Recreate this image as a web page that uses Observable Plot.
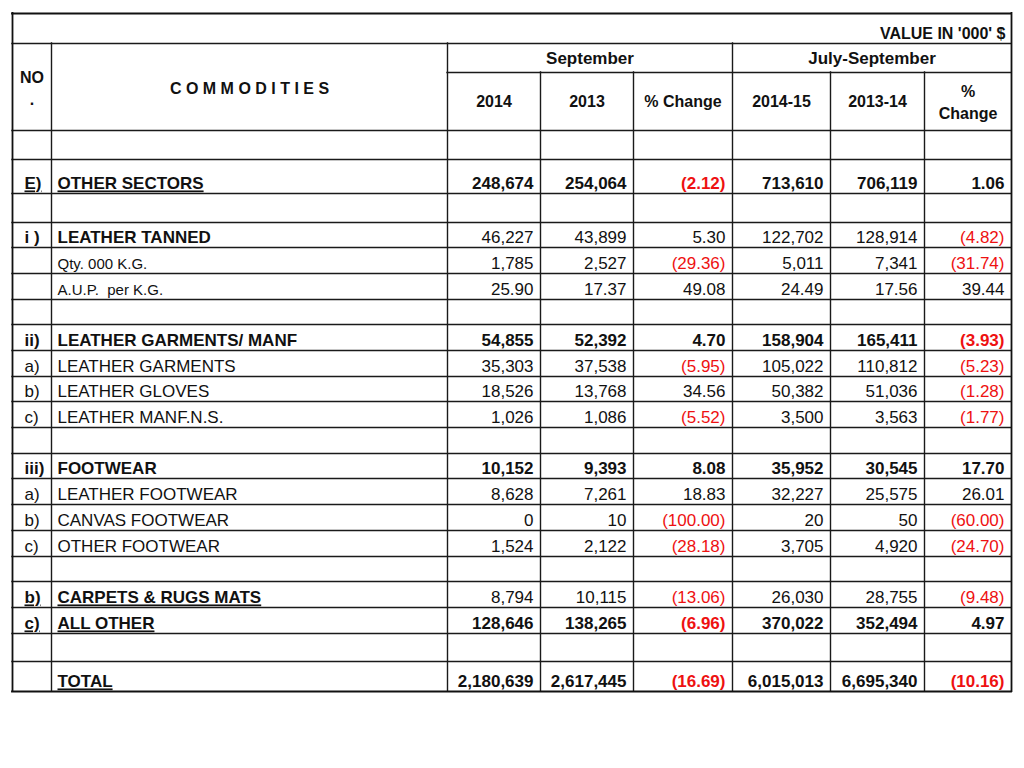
<!DOCTYPE html>
<html>
<head>
<meta charset="utf-8">
<script src="https://cdn.jsdelivr.net/npm/d3@7"></script>
<script src="https://cdn.jsdelivr.net/npm/@observablehq/plot@0.6"></script>
<style>
  html, body { margin: 0; padding: 0; background: #fff; overflow: hidden; }
  #chart svg { display: block; }
</style>
</head>
<body>
<div id="chart"></div>
<script>
// ---------------- DATA ----------------
const unitNote = "VALUE IN '000' $";
const noHeader = "NO\n.";
const commoditiesHeader = "C O M M O D I T I E S";
const groupHeaders = ["September", "July-September"];
const columnHeaders = ["2014", "2013", "% Change", "2014-15", "2013-14", "%\nChange"];

const rowNo = ["", "E)", "", "i )", "", "", "", "ii)", "a)", "b)", "c)", "", "iii)", "a)", "b)", "c)", "", "b)", "c)", "", ""];
const commodities = ["", "OTHER SECTORS", "", "LEATHER TANNED", "Qty. 000 K.G.", "A.U.P.  per K.G.", "",
  "LEATHER GARMENTS/ MANF", "LEATHER GARMENTS", "LEATHER GLOVES", "LEATHER MANF.N.S.", "",
  "FOOTWEAR", "LEATHER FOOTWEAR", "CANVAS FOOTWEAR", "OTHER FOOTWEAR", "",
  "CARPETS & RUGS MATS", "ALL OTHER", "", "TOTAL"];

const sep2014   = [null, 248674, null, 46227, 1785, 25.90, null, 54855, 35303, 18526, 1026, null, 10152, 8628, 0, 1524, null, 8794, 128646, null, 2180639];
const sep2013   = [null, 254064, null, 43899, 2527, 17.37, null, 52392, 37538, 13768, 1086, null, 9393, 7261, 10, 2122, null, 10115, 138265, null, 2617445];
const sepChange = [null, -2.12, null, 5.30, -29.36, 49.08, null, 4.70, -5.95, 34.56, -5.52, null, 8.08, 18.83, -100.00, -28.18, null, -13.06, -6.96, null, -16.69];
const jul1415   = [null, 713610, null, 122702, 5011, 24.49, null, 158904, 105022, 50382, 3500, null, 35952, 32227, 20, 3705, null, 26030, 370022, null, 6015013];
const jul1314   = [null, 706119, null, 128914, 7341, 17.56, null, 165411, 110812, 51036, 3563, null, 30545, 25575, 50, 4920, null, 28755, 352494, null, 6695340];
const julChange = [null, 1.06, null, -4.82, -31.74, 39.44, null, -3.93, -5.23, -1.28, -1.77, null, 17.70, 26.01, -60.00, -24.70, null, -9.48, 4.97, null, -10.16];

// ---------------- LAYOUT / STYLE ----------------
const W = 1024, H = 740;
const colEdges = [12, 51, 447, 540, 633, 732, 830, 924, 1011];
const headTop = 13, headMid = 43, headSub = 72;
const rowEdges = [130, 159, 193, 222, 247, 273, 299, 324, 350, 376, 401, 427, 453, 478, 504, 530, 556, 581, 607, 633, 661, 691];
const boldLabelRows = new Set([1, 3, 7, 12, 17, 18, 20]);
const underlineRows = new Set([1, 17, 18, 20]);
const boldValueRows = new Set([1, 7, 12, 18, 20]);
const smallLabelRows = new Set([4, 5]);
const RED = "#ee1111", INK = "#111";
const FONT = "'Liberation Sans', Arial, sans-serif";

const fmtValue = v => Number.isInteger(v) ? d3.format(",")(v) : d3.format(".2f")(v);
const fmtChange = v => v < 0 ? `(${d3.format(".2f")(-v)})` : d3.format(".2f")(v);

const series = [sep2014, sep2013, sepChange, jul1415, jul1314, julChange];
const isChange = [false, false, true, false, false, true];

// ---------------- CELLS ----------------
const cells = [];
const rowCenter = i => rowEdges[i + 1] - 9.5;
const cell = (o) => cells.push({ul: false, color: INK, lh: 1, ...o});
rowNo.forEach((no, i) => {
  const y = rowCenter(i);
  const ul = underlineRows.has(i);
  if (no) cell({x: 24, y, text: no, anchor: "start", weight: boldLabelRows.has(i) ? "bold" : "normal", size: 17, ul});
  if (commodities[i]) cell({x: 57, y, text: commodities[i], anchor: "start",
    weight: boldLabelRows.has(i) ? "bold" : "normal", size: smallLabelRows.has(i) ? 15 : 17, ul});
  series.forEach((s, j) => {
    const v = s[i];
    if (v == null) return;
    cell({x: colEdges[j + 3] - 7, y, text: isChange[j] ? fmtChange(v) : fmtValue(v), anchor: "end",
      weight: boldValueRows.has(i) ? "bold" : "normal", size: 17,
      color: isChange[j] && v < 0 ? RED : INK});
  });
});
// headers
cell({x: 1005, y: 33.5, text: unitNote, anchor: "end", weight: "bold", size: 16});
cell({x: (colEdges[0] + colEdges[1]) / 2, y: 86.5, text: noHeader, anchor: "middle", weight: "bold", size: 16, lh: 1.35});
cell({x: (colEdges[1] + colEdges[2]) / 2, y: 88, text: commoditiesHeader, anchor: "middle", weight: "bold", size: 16});
groupHeaders.forEach((g, k) => {
  const a = colEdges[2 + k * 3], b = colEdges[5 + k * 3];
  cell({x: (a + b) / 2, y: 58.5, text: g, anchor: "middle", weight: "bold", size: 17});
});
columnHeaders.forEach((h, j) => {
  const multi = h.includes("\n");
  cell({x: (colEdges[j + 2] + colEdges[j + 3]) / 2, y: multi ? 100.5 : 101.5, text: h, anchor: "middle",
    weight: "bold", size: 16, lh: multi ? 1.35 : 1});
});

// ---------------- LINES ----------------
const L = colEdges[0], R = colEdges[colEdges.length - 1], B = rowEdges[rowEdges.length - 1];
const hLines = [
  {y: headMid, x1: L, x2: R},
  {y: headSub, x1: colEdges[2], x2: R},
  ...rowEdges.slice(0, -1).map(y => ({y, x1: L, x2: R}))
];
const vLines = [
  ...[colEdges[1], colEdges[2], colEdges[5]].map(x => ({x, y1: headMid, y2: B})),
  ...[colEdges[3], colEdges[4], colEdges[6], colEdges[7]].map(x => ({x, y1: headSub, y2: B}))
];
const outerH = [{y: headTop, x1: L, x2: R}, {y: B, x1: L, x2: R}];
const outerV = [{x: L, y1: headTop, y2: B}, {x: R, y1: headTop, y2: B}];

// ---------------- TEXT MARKS (grouped by style) ----------------
const groups = d3.groups(cells, c => [c.anchor, c.weight, c.size, c.ul, c.lh].join("|"));
const textMarks = groups.map(([key, data]) => {
  const [anchor, weight, size, ul, lh] = key.split("|");
  return Plot.text(data, {
    x: "x", y: "y", text: "text", fill: "color",
    textAnchor: anchor, fontWeight: weight, fontSize: +size, fontFamily: FONT,
    lineAnchor: "middle", lineHeight: +lh,
    ariaDescription: ul === "true" ? "underlined" : "plain"
  });
});

const chart = Plot.plot({
  width: W, height: H,
  marginTop: 0, marginRight: 0, marginBottom: 0, marginLeft: 0,
  x: {domain: [0, W], range: [0, W], axis: null},
  y: {domain: [0, H], range: [0, H], axis: null},
  color: {type: "identity"},
  style: {background: "#fff", fontFamily: FONT},
  marks: [
    Plot.ruleY(hLines, {y: "y", x1: "x1", x2: "x2", stroke: "#1a1a1a", strokeWidth: 1.4, strokeLinecap: "square"}),
    Plot.ruleX(vLines, {x: "x", y1: "y1", y2: "y2", stroke: "#1a1a1a", strokeWidth: 1.4, strokeLinecap: "square"}),
    Plot.ruleY(outerH, {y: "y", x1: "x1", x2: "x2", stroke: "#111", strokeWidth: 1.8, strokeLinecap: "square"}),
    Plot.ruleX(outerV, {x: "x", y1: "y1", y2: "y2", stroke: "#111", strokeWidth: 1.8, strokeLinecap: "square"}),
    ...textMarks
  ]
});
chart.querySelectorAll('g[aria-description="underlined"] text').forEach(t => {
  t.setAttribute("text-decoration", "underline");
  t.style.textDecoration = "underline";
});
document.getElementById("chart").appendChild(chart);
</script>
</body>
</html>
